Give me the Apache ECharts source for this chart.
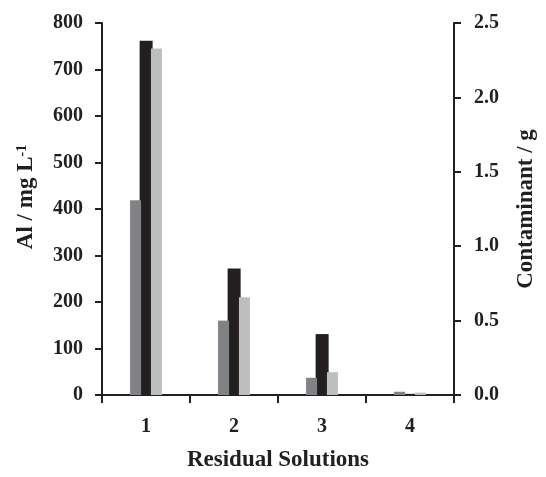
<!DOCTYPE html>
<html>
<head>
<meta charset="utf-8">
<script src="https://cdn.jsdelivr.net/npm/echarts@6/dist/echarts.min.js"></script>
<style>
html,body{margin:0;padding:0;background:#fff;}
#chart{width:546px;height:477px;}
</style>
</head>
<body>
<div id="chart"></div>
<script>
var categories = ['1', '2', '3', '4'];
var seriesGray = [419, 160, 37, 7];
var seriesBlack = [762, 272, 131, 2.5];
var seriesLight = [745, 210, 49, 5];
var leftTicks = {min: 0, max: 800, interval: 100};
var rightTicks = {min: 0, max: 2.5, interval: 0.5};

var ink = '#231f20';
var font = 'Liberation Serif';
var chart = echarts.init(document.getElementById('chart'), null, {renderer: 'canvas'});
var axisCommon = {
  axisLine: {show: true, lineStyle: {color: ink, width: 2}},
  axisTick: {show: true, length: 7, lineStyle: {color: ink, width: 2}},
  splitLine: {show: false},
  axisLabel: {color: ink, fontFamily: font, fontWeight: 'bold', fontSize: 20, margin: 19}
};
chart.setOption({
  animation: false,
  backgroundColor: '#fff',
  grid: {left: 102, right: 90, top: 23, bottom: 74, containLabel: false},
  xAxis: {
    type: 'category',
    data: categories,
    axisLine: {show: true, lineStyle: {color: ink, width: 2}},
    axisTick: {show: true, length: 8, alignWithLabel: false, lineStyle: {color: ink, width: 2}},
    axisLabel: {color: ink, fontFamily: font, fontWeight: 'bold', fontSize: 20, margin: 22},
    name: 'Residual Solutions',
    nameLocation: 'middle',
    nameGap: 54,
    nameTextStyle: {color: ink, fontFamily: font, fontWeight: 'bold', fontSize: 23}
  },
  yAxis: [
    Object.assign({}, axisCommon, {
      type: 'value',
      position: 'left',
      min: leftTicks.min, max: leftTicks.max, interval: leftTicks.interval,
      name: 'Al / mg L{sup|-1}',
      nameLocation: 'middle',
      nameRotate: 90,
      nameGap: 64,
      nameTextStyle: {
        color: ink, fontFamily: font, fontWeight: 'bold', fontSize: 23,
        padding: [0, 0, 0, 24],
        rich: {sup: {color: ink, fontFamily: font, fontWeight: 'bold', fontSize: 14, verticalAlign: 'top', lineHeight: 23}}
      }
    }),
    Object.assign({}, axisCommon, {
      type: 'value',
      position: 'right',
      min: rightTicks.min, max: rightTicks.max, interval: rightTicks.interval,
      axisLabel: Object.assign({}, axisCommon.axisLabel, {margin: 20, formatter: function (v) { return v.toFixed(1); }}),
      name: 'Contaminant / g',
      nameLocation: 'middle',
      nameRotate: 90,
      nameGap: 61,
      nameTextStyle: {color: ink, fontFamily: font, fontWeight: 'bold', fontSize: 23}
    })
  ],
  series: [
    {type: 'bar', name: 'gray', data: seriesGray, barWidth: 11, barGap: '-13%', z: 3, itemStyle: {color: '#808285'}},
    {type: 'bar', name: 'black', data: seriesBlack, barWidth: 13, barGap: '-13%', z: 2, itemStyle: {color: ink}},
    {type: 'bar', name: 'light', data: seriesLight, barWidth: 11, barGap: '-13%', z: 3, itemStyle: {color: '#bcbec0'}}
  ]
});
</script>
</body>
</html>
